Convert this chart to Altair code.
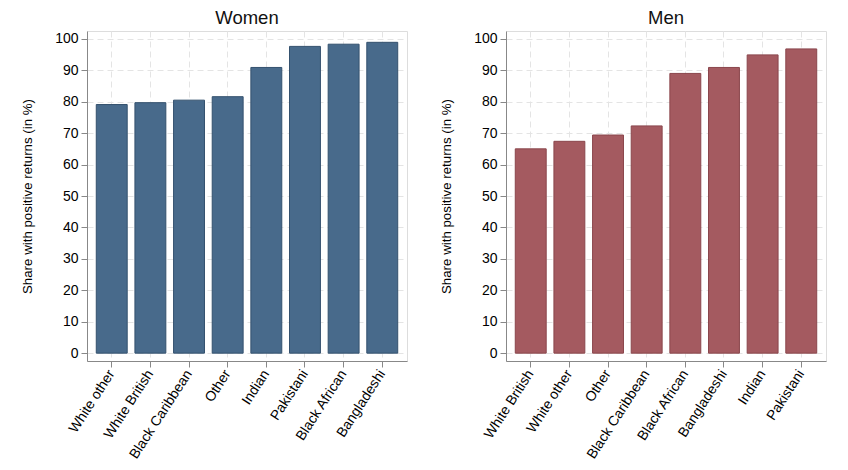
import altair as alt
import pandas as pd

women_groups = ["White other", "White British", "Black Caribbean", "Other",
                "Indian", "Pakistani", "Black African", "Bangladeshi"]
women_values = [79.1, 79.7, 80.5, 81.6, 90.9, 97.6, 98.3, 98.9]

men_groups = ["White British", "White other", "Other", "Black Caribbean",
              "Black African", "Bangladeshi", "Indian", "Pakistani"]
men_values = [65.0, 67.4, 69.4, 72.3, 89.0, 90.9, 94.9, 96.8]

y_ticks = list(range(0, 101, 10))
y_title = "Share with positive returns (in %)"
FONT = "Liberation Sans"
GRID = dict(grid=True, gridColor="#e4e4e4", gridDash=[6, 4], gridWidth=1)


def panel(groups, values, title, fill, stroke):
    df = pd.DataFrame({"group": groups, "share": values})
    return (
        alt.Chart(df, title=alt.Title(title, fontSize=18.5, fontWeight="normal",
                                      font=FONT, color="#111111", anchor="middle",
                                      frame="group", offset=4))
        .mark_bar(fill=fill, stroke=stroke, strokeWidth=1)
        .encode(
            x=alt.X("group:N", sort=groups, title=None,
                    scale=alt.Scale(paddingInner=0.2, paddingOuter=0.24),
                    axis=alt.Axis(labelAngle=-57, labelAlign="right",
                                  labelBaseline="middle", labelFontSize=14,
                                  labelPadding=4, tickSize=6, **GRID)),
            y=alt.Y("share:Q",
                    scale=alt.Scale(domain=[-2.5, 102.5], nice=False, zero=False),
                    axis=alt.Axis(values=y_ticks, title=y_title, titleFontSize=13.3,
                                  titleFontWeight="normal", titlePadding=20,
                                  labelFontSize=14, labelPadding=3, tickSize=6,
                                  **GRID)),
            y2=alt.datum(0),
        )
        .properties(width=320, height=330)
    )


left = panel(women_groups, women_values, "Women", "#486a8b", "#34516e")
right = panel(men_groups, men_values, "Men", "#a45a60", "#8a464c")

chart = (
    alt.hconcat(left, right, spacing=31)
    .properties(padding={"left": 20, "top": 8, "right": 5, "bottom": 5})
    .configure_view(stroke=None)
    .configure_axis(
        labelFont=FONT, titleFont=FONT,
        labelColor="#222222", titleColor="#222222",
        domainColor="#4a4a4a", domainWidth=1.5,
        tickColor="#4a4a4a", tickWidth=1.2,
    )
    .configure(background="white")
)

chart.save("out.html", embed_options={"renderer": "svg", "actions": False})
